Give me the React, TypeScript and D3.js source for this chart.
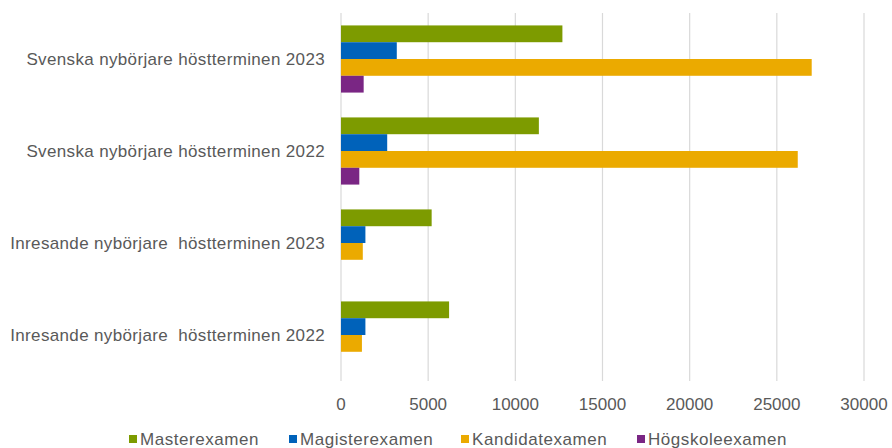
import { useEffect, useRef } from "react";
import * as d3 from "d3";

const categories = [
  "Svenska nybörjare höstterminen 2023",
  "Svenska nybörjare höstterminen 2022",
  "Inresande nybörjare  höstterminen 2023",
  "Inresande nybörjare  höstterminen 2022",
];
const seriesNames = ["Masterexamen", "Magisterexamen", "Kandidatexamen", "Högskoleexamen"];
const seriesColors = ["#7D9B00", "#0062BA", "#EBAA00", "#7A2684"];

// values per series, in category order
const master = [12700, 11350, 5200, 6200];
const magister = [3200, 2650, 1400, 1400];
const kandidat = [27000, 26200, 1250, 1200];
const hogskole = [1300, 1050, 0, 0];
const seriesValues = [master, magister, kandidat, hogskole];

const xTicks = [0, 5000, 10000, 15000, 20000, 25000, 30000];

export default function App() {
  const svgRef = useRef<SVGSVGElement>(null);

  useEffect(() => {
    if (!svgRef.current) return;
    const svg = d3.select(svgRef.current);
    svg.selectAll("*").remove();

    const W = 892, H = 448;
    const margin = { top: 13, right: 28, bottom: 67, left: 341 };
    const width = W - margin.left - margin.right;
    const height = H - margin.top - margin.bottom;
    const font = "'Liberation Sans', Arial, sans-serif";
    const textColor = "#595959";

    const g = svg.append("g").attr("transform", `translate(${margin.left},${margin.top})`);

    const x = d3.scaleLinear().domain([0, 30000]).range([0, width]);

    const y = d3.scaleBand()
      .domain(categories)
      .range([0, height])
      .paddingInner(0.27)
      .paddingOuter(0.135);

    const ySub = d3.scaleBand()
      .domain(seriesNames)
      .range([0, y.bandwidth()])
      .padding(0);

    // Grid
    g.append("g")
      .selectAll("line")
      .data(xTicks)
      .enter().append("line")
      .attr("x1", d => x(d))
      .attr("x2", d => x(d))
      .attr("y1", 0)
      .attr("y2", height)
      .attr("stroke", "#D9D9D9")
      .attr("stroke-width", 1.2);

    // Bars
    seriesNames.forEach((name, si) => {
      g.append("g")
        .selectAll("rect")
        .data(seriesValues[si].map((v, ci) => ({ v, c: categories[ci] })))
        .enter().append("rect")
        .attr("x", x(0))
        .attr("y", d => y(d.c)! + ySub(name)!)
        .attr("width", d => x(d.v) - x(0))
        .attr("height", ySub.bandwidth())
        .attr("fill", seriesColors[si]);
    });

    // X tick labels
    g.append("g")
      .selectAll("text")
      .data(xTicks)
      .enter().append("text")
      .attr("x", d => x(d))
      .attr("y", height + 29)
      .attr("text-anchor", "middle")
      .attr("font-family", font)
      .attr("font-size", 17)
      .attr("fill", textColor)
      .text(d => String(d));

    // Category labels
    g.append("g")
      .selectAll("text")
      .data(categories)
      .enter().append("text")
      .attr("x", -16)
      .attr("y", d => y(d)! + y.bandwidth() / 2)
      .attr("dy", "0.35em")
      .attr("text-anchor", "end")
      .attr("font-family", font)
      .attr("font-size", 17)
      .attr("letter-spacing", 0.35)
      .attr("fill", textColor)
      .style("white-space", "pre")
      .text(d => d);

    // Legend
    const legendX = [129, 289, 461, 637];
    const legend = svg.append("g");
    seriesNames.forEach((name, i) => {
      legend.append("rect")
        .attr("x", legendX[i])
        .attr("y", 435)
        .attr("width", 8)
        .attr("height", 8)
        .attr("fill", seriesColors[i]);
      legend.append("text")
        .attr("x", legendX[i] + 11)
        .attr("y", 439)
        .attr("dy", "0.35em")
        .attr("font-family", font)
        .attr("font-size", 17)
        .attr("letter-spacing", 0.55)
        .attr("fill", textColor)
        .text(name);
    });
  }, []);

  return (
    <svg
      ref={svgRef}
      width={892}
      height={448}
      style={{ position: "absolute", left: 0, top: 0, background: "#fff" }}
    />
  );
}
